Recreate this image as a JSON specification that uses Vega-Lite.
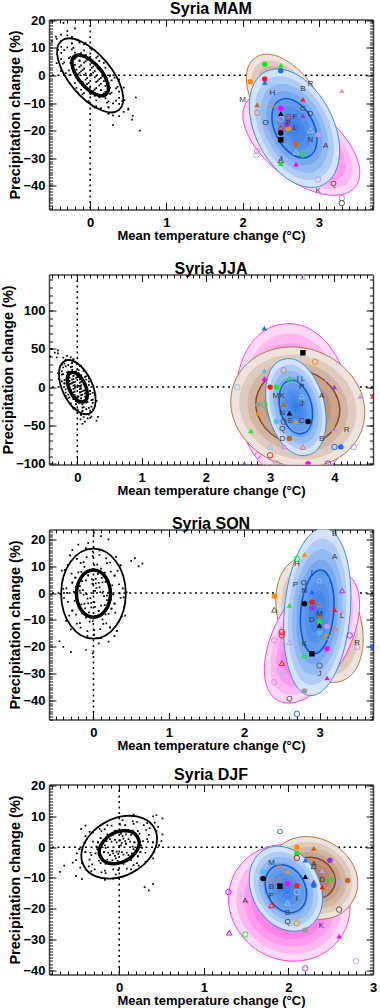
{
"$schema": "https://vega.github.io/schema/vega-lite/v6.json",
"padding": {"left": 0, "top": 0.5, "right": 0, "bottom": 0},
"spacing": 65,
"bounds": "flush",
"config": {
 "font": "Liberation Sans",
 "view": {"stroke": null},
 "title": {"fontSize": 16, "fontWeight": "bold", "color": "black", "offset": -3, "anchor": "middle", "font": "Liberation Sans"},
 "axis": {"grid": false, "labelFont": "Liberation Sans", "labelFontSize": 13, "labelFontWeight": "bold", "labelColor": "black", "titleFont": "Liberation Sans", "titleFontWeight": "bold", "titleColor": "black", "tickColor": "#111", "tickWidth": 1, "tickSize": -7, "domainColor": "#444", "domainWidth": 1.5, "labelFlush": false, "labelOverlap": false, "zindex": 1},
 "axisX": {"titleFontSize": 13, "titlePadding": 0, "labelPadding": 14},
 "axisY": {"titleFontSize": 14.5, "titlePadding": 0, "labelPadding": 11},
 "point": {"opacity": 1},
 "square": {"opacity": 1}
},
"datasets": {
 "cMAM": [{"x":-0.02,"y":-2.7},{"x":-0.2,"y":3.8},{"x":0.26,"y":-6.7},{"x":0.02,"y":4.9},{"x":0,"y":-6.6},{"x":-0.24,"y":9.4},{"x":0,"y":0},{"x":0.12,"y":-8},{"x":-0.26,"y":0.1},{"x":0.3,"y":-10.1},{"x":0.12,"y":5.2},{"x":0.14,"y":-0.9},{"x":-0.08,"y":9},{"x":-0.02,"y":-9.3},{"x":-0.42,"y":9.3},{"x":0.38,"y":-5.9},{"x":-0.34,"y":4.7},{"x":0.08,"y":-0.2},{"x":0.26,"y":-0.1},{"x":-0.16,"y":0.4},{"x":0.24,"y":-13.8},{"x":-0.24,"y":11.6},{"x":-0.1,"y":-2.5},{"x":0.2,"y":-8.2},{"x":-0.14,"y":5.3},{"x":-0.08,"y":-6.4},{"x":-0.06,"y":0.7},{"x":0.38,"y":-1.5},{"x":-0.44,"y":4.4},{"x":0.24,"y":-2.8},{"x":-0.06,"y":5.1},{"x":0.44,"y":-13.2},{"x":-0.38,"y":12.5},{"x":0.1,"y":2.5},{"x":0.08,"y":-4.6},{"x":-0.2,"y":6},{"x":0.14,"y":-11.9},{"x":0.1,"y":6.9},{"x":-0.08,"y":-4.2},{"x":-0.08,"y":11.2},{"x":0.38,"y":-8.1},{"x":-0.28,"y":1.8},{"x":0.08,"y":-2.4},{"x":0.04,"y":3.2},{"x":0.18,"y":-6.5},{"x":-0.18,"y":2.1},{"x":0.36,"y":-4.2},{"x":-0.34,"y":9.1},{"x":-0.18,"y":-4.5},{"x":0.06,"y":-7.3},{"x":-0.5,"y":12.4},{"x":0.56,"y":-14.6},{"x":-0.08,"y":2.4},{"x":0.16,"y":1.8},{"x":0.14,"y":-3.1},{"x":-0.14,"y":7.5},{"x":0.38,"y":-10.3},{"x":-0.14,"y":11.9},{"x":0,"y":-4.4},{"x":-0.2,"y":-2.8},{"x":0.06,"y":-11.7},{"x":-0.24,"y":13.8},{"x":0.04,"y":1},{"x":0.32,"y":-0.8},{"x":0,"y":6.6},{"x":0.22,"y":-9.9},{"x":-0.28,"y":6.2},{"x":-0.16,"y":-6.2},{"x":-0.06,"y":7.3},{"x":0.04,"y":-5.6},{"x":0.3,"y":-14.5},{"x":-0.38,"y":14.7},{"x":0.26,"y":-4.5},{"x":-0.12,"y":1.4},{"x":-0.06,"y":-1.5},{"x":0.1,"y":-1.9},{"x":-0.12,"y":3.6},{"x":0.24,"y":-11.6},{"x":-0.38,"y":1.5},{"x":0.14,"y":-5.3},{"x":-0.35,"y":19},{"x":-0.2,"y":17},{"x":0.5,"y":-12},{"x":0.6,"y":-8},{"x":0.55,"y":-16},{"x":0.65,"y":-20},{"x":-0.45,"y":14},{"x":0.3,"y":-18},{"x":-0.3,"y":16},{"x":0.45,"y":-9},
  {"x":0.02,"y":2.7},{"x":0.2,"y":-3.8},{"x":-0.26,"y":6.7},{"x":-0.02,"y":-4.9},{"x":0,"y":6.6},{"x":0.24,"y":-9.4},{"x":0.01,"y":0.5},{"x":-0.12,"y":8},{"x":0.26,"y":-0.1},{"x":-0.3,"y":10.1},{"x":-0.12,"y":-5.2},{"x":-0.14,"y":0.9},{"x":0.08,"y":-9},{"x":0.02,"y":9.3},{"x":0.42,"y":-9.3},{"x":-0.38,"y":5.9},{"x":0.34,"y":-4.7},{"x":-0.08,"y":0.2},{"x":-0.26,"y":0.1},{"x":0.16,"y":-0.4},{"x":-0.24,"y":13.8},{"x":0.24,"y":-11.6},{"x":0.1,"y":2.5},{"x":-0.2,"y":8.2},{"x":0.14,"y":-5.3},{"x":0.08,"y":6.4},{"x":0.06,"y":-0.7},{"x":-0.38,"y":1.5},{"x":0.44,"y":-4.4},{"x":-0.24,"y":2.8},{"x":0.06,"y":-5.1},{"x":-0.44,"y":13.2},{"x":0.38,"y":-12.5},{"x":-0.1,"y":-2.5},{"x":-0.08,"y":4.6},{"x":0.2,"y":-6},{"x":-0.14,"y":11.9},{"x":-0.1,"y":-6.9},{"x":0.08,"y":4.2},{"x":0.08,"y":-11.2},{"x":-0.38,"y":8.1},{"x":0.28,"y":-1.8},{"x":-0.08,"y":2.4},{"x":-0.04,"y":-3.2},{"x":-0.18,"y":6.5},{"x":0.18,"y":-2.1},{"x":-0.36,"y":4.2},{"x":0.34,"y":-9.1},{"x":0.18,"y":4.5},{"x":-0.06,"y":7.3},{"x":0.5,"y":-12.4},{"x":-0.56,"y":14.6},{"x":0.08,"y":-2.4},{"x":-0.16,"y":-1.8},{"x":-0.14,"y":3.1},{"x":0.14,"y":-7.5},{"x":-0.38,"y":10.3},{"x":0.14,"y":-11.9},{"x":0.02,"y":4.4},{"x":0.2,"y":2.8},{"x":-0.06,"y":11.7},{"x":0.24,"y":-13.8},{"x":-0.04,"y":-1},{"x":-0.32,"y":0.8},{"x":0.01,"y":-6.6},{"x":-0.22,"y":9.9},{"x":0.28,"y":-6.2},{"x":0.16,"y":6.2},{"x":0.06,"y":-7.3},{"x":-0.04,"y":5.6},{"x":-0.3,"y":14.5},{"x":0.38,"y":-14.7},{"x":-0.26,"y":4.5},{"x":0.12,"y":-1.4},{"x":0.06,"y":1.5},{"x":-0.1,"y":1.9},{"x":0.12,"y":-3.6},{"x":-0.24,"y":11.6},{"x":0.38,"y":-1.5},{"x":-0.14,"y":5.3}],
 "eMAM": [
  {"g":"k","p":"line","k":8,"x":0,"y":0},{"g":"k","p":"line","k":4.4,"x":0,"y":0},
  {"g":"pink","p":"base","k":8,"x":2.77,"y":-24.8},{"g":"pink","p":"band","k":8,"x":2.77,"y":-24.8},{"g":"pink","p":"band","k":7,"x":2.77,"y":-24.8},{"g":"pink","p":"band","k":6,"x":2.77,"y":-24.8},{"g":"pink","p":"band","k":5,"x":2.77,"y":-24.8},{"g":"pink","p":"band","k":4,"x":2.77,"y":-24.8},{"g":"pink","p":"band","k":3,"x":2.77,"y":-24.8},{"g":"pink","p":"band","k":2,"x":2.77,"y":-24.8},{"g":"pink","p":"band","k":1,"x":2.77,"y":-24.8},{"g":"pink","p":"line","k":8,"x":2.77,"y":-24.8},
  {"g":"brown","p":"base","k":8,"x":2.58,"y":-9.9},{"g":"brown","p":"band","k":8,"x":2.58,"y":-9.9},{"g":"brown","p":"band","k":7,"x":2.58,"y":-9.9},{"g":"brown","p":"band","k":6,"x":2.58,"y":-9.9},{"g":"brown","p":"band","k":5,"x":2.58,"y":-9.9},{"g":"brown","p":"band","k":4,"x":2.58,"y":-9.9},{"g":"brown","p":"band","k":3,"x":2.58,"y":-9.9},{"g":"brown","p":"band","k":2,"x":2.58,"y":-9.9},{"g":"brown","p":"band","k":1,"x":2.58,"y":-9.9},{"g":"brown","p":"line","k":8,"x":2.58,"y":-9.9},
  {"g":"blue","p":"base","k":8,"x":2.68,"y":-19.1},{"g":"blue","p":"band","k":8,"x":2.68,"y":-19.1},{"g":"blue","p":"band","k":7,"x":2.68,"y":-19.1},{"g":"blue","p":"band","k":6,"x":2.68,"y":-19.1},{"g":"blue","p":"band","k":5,"x":2.68,"y":-19.1},{"g":"blue","p":"band","k":4,"x":2.68,"y":-19.1},{"g":"blue","p":"band","k":3,"x":2.68,"y":-19.1},{"g":"blue","p":"band","k":2,"x":2.68,"y":-19.1},{"g":"blue","p":"band","k":1,"x":2.68,"y":-19.1},{"g":"blue","p":"line","k":8,"x":2.68,"y":-19.1},{"g":"blue","p":"line","k":4,"x":2.68,"y":-19.1}
 ],
 "mMAM": [{"x":2.29,"y":4,"c":"g","s":"c","f":1},{"x":2.5,"y":3.6,"c":"g","s":"t","f":1},{"x":2.5,"y":1.7,"c":"b","s":"c","f":1},{"x":2.1,"y":-2.3,"c":"o","s":"c","f":1},{"x":2.29,"y":-1.3,"c":"r","s":"c","f":1},{"x":2.29,"y":-2.5,"c":"b","s":"t","f":1},{"x":2.19,"y":-10.7,"c":"n","s":"t","f":1},{"x":2.19,"y":-13.5,"c":"sa","s":"c","f":0},{"x":2.39,"y":-10.7,"c":"sa","s":"t","f":0},{"x":2.5,"y":-11.9,"c":"m","s":"c","f":1},{"x":2.5,"y":-13.8,"c":"k","s":"t","f":1},{"x":2.6,"y":-15.2,"c":"r","s":"c","f":0},{"x":2.5,"y":-15.8,"c":"l","s":"c","f":0},{"x":2.79,"y":-14.6,"c":"p","s":"t","f":1},{"x":2.79,"y":-8.7,"c":"r","s":"t","f":1},{"x":3.3,"y":-5.5,"c":"l","s":"t","f":1},{"x":2.3,"y":-18.8,"c":"l","s":"t","f":0},{"x":2.6,"y":-19.2,"c":"o","s":"c","f":1},{"x":2.58,"y":-17.8,"c":"p","s":"c","f":1},{"x":2.5,"y":-19,"c":"r","s":"t","f":0},{"x":2.5,"y":-20.8,"c":"k","s":"c","f":1},{"x":2.5,"y":-23.3,"c":"k","s":"q","f":1},{"x":2.7,"y":-24.8,"c":"n","s":"c","f":1},{"x":2.89,"y":-19.8,"c":"lb","s":"t","f":0},{"x":2.99,"y":-21.5,"c":"l","s":"c","f":1},{"x":2.7,"y":-27.7,"c":"lb","s":"t","f":0},{"x":2.79,"y":-28.6,"c":"g","s":"c","f":0},{"x":2.19,"y":-27.4,"c":"pk","s":"c","f":0},{"x":2.18,"y":-28.9,"c":"lb","s":"c","f":0},{"x":2.5,"y":-30.7,"c":"dg","s":"t","f":0},{"x":2.5,"y":-31.9,"c":"g","s":"t","f":1},{"x":2.7,"y":-32.1,"c":"m","s":"t","f":1},{"x":2.99,"y":-37.6,"c":"l","s":"c","f":0},{"x":3.3,"y":-44.4,"c":"y","s":"c","f":0},{"x":3.3,"y":-46.2,"c":"dg","s":"c","f":0},{"x":3.7,"y":-31.3,"c":"l","s":"c","f":0}],
 "lMAM": [{"t":"A","x":3.09,"y":-25.7},{"t":"B","x":2.79,"y":-5.1},{"t":"C","x":2.79,"y":-12.3},{"t":"D","x":2.89,"y":-14},{"t":"F","x":2.69,"y":-15.2},{"t":"H","x":2.39,"y":-6.3},{"t":"J","x":2.5,"y":-30.2},{"t":"K","x":2.99,"y":-41.8},{"t":"L","x":2.69,"y":-19.2},{"t":"M","x":2.0,"y":-9},{"t":"N","x":2.89,"y":-23.3},{"t":"O","x":2.3,"y":-17.3},{"t":"P","x":2.6,"y":-17.3},{"t":"Q","x":3.19,"y":-39.3},{"t":"R","x":2.89,"y":-3.3}],
 "cJJA": [{"x":-0.04,"y":-5.9},{"x":-0.12,"y":12.4},{"x":0.14,"y":-20.2},{"x":0.06,"y":11},{"x":-0.06,"y":-15.3},{"x":-0.1,"y":26.1},{"x":0,"y":0},{"x":0.02,"y":-20.7},{"x":-0.2,"y":4.9},{"x":0.14,"y":-28.8},{"x":0.14,"y":9.9},{"x":0.1,"y":-4.6},{"x":0.02,"y":22.3},{"x":-0.1,"y":-21.2},{"x":-0.24,"y":29.1},{"x":0.24,"y":-20.5},{"x":-0.22,"y":17},{"x":0.06,"y":-1.9},{"x":0.2,"y":-4.9},{"x":-0.12,"y":3.8},{"x":0.06,"y":-36.3},{"x":-0.08,"y":31.2},{"x":-0.1,"y":-4},{"x":0.08,"y":-22.6},{"x":-0.06,"y":14.8},{"x":-0.12,"y":-13.4},{"x":-0.04,"y":2.7},{"x":0.28,"y":-10.3},{"x":-0.3,"y":18.1},{"x":0.16,"y":-10.8},{"x":0,"y":12.9},{"x":0.22,"y":-38.5},{"x":-0.18,"y":35.8},{"x":0.1,"y":4},{"x":0.02,"y":-12.1},{"x":-0.1,"y":17.5},{"x":0,"y":-30.1},{"x":0.14,"y":14.2},{"x":-0.1,"y":-8.3},{"x":0.04,"y":27.4},{"x":0.22,"y":-25.6},{"x":-0.2,"y":9.2},{"x":0.04,"y":-7},{"x":0.06,"y":6.7},{"x":0.08,"y":-18.3},{"x":-0.12,"y":8.1},{"x":0.24,"y":-16.2},{"x":-0.18,"y":27.2},{"x":-0.18,"y":-7.2},{"x":-0.02,"y":-18},{"x":-0.32,"y":38.8},{"x":0.3,"y":-43.9},{"x":-0.04,"y":7},{"x":0.14,"y":1.3},{"x":0.08,"y":-9.7},{"x":-0.04,"y":19.9},{"x":0.2,"y":-30.7},{"x":0,"y":30.1},{"x":-0.04,"y":-10.2},{"x":-0.18,"y":-2.9},{"x":-0.06,"y":-28.2},{"x":-0.06,"y":36.3},{"x":0.04,"y":1.6},{"x":0.24,"y":-7.6},{"x":0.06,"y":15.3},{"x":0.08,"y":-26.9},{"x":-0.16,"y":19.4},{"x":-0.18,"y":-11.5},{"x":0.02,"y":18},{"x":-0.02,"y":-13.7},{"x":0.1,"y":-39},{"x":-0.16,"y":40.9},{"x":0.16,"y":-15.1},{"x":-0.08,"y":5.4},{"x":-0.06,"y":-2.4},{"x":0.06,"y":-6.2},{"x":-0.06,"y":10.5},{"x":0.08,"y":-31.2},{"x":-0.28,"y":10.3},{"x":0.06,"y":-14.8},{"x":-0.4,"y":50},{"x":-0.35,"y":45},{"x":-0.3,"y":48},{"x":-0.42,"y":40},{"x":0.05,"y":-42},{"x":0.12,"y":-45},{"x":0.2,"y":-40},{"x":0.08,"y":-48},
  {"x":0.04,"y":5.9},{"x":0.12,"y":-12.4},{"x":-0.14,"y":20.2},{"x":-0.06,"y":-11},{"x":0.06,"y":15.3},{"x":0.1,"y":-26.1},{"x":0.02,"y":1.5},{"x":-0.02,"y":20.7},{"x":0.2,"y":-4.9},{"x":-0.14,"y":28.8},{"x":-0.14,"y":-9.9},{"x":-0.1,"y":4.6},{"x":-0.02,"y":-22.3},{"x":0.1,"y":21.2},{"x":0.24,"y":-29.1},{"x":-0.24,"y":20.5},{"x":0.22,"y":-17},{"x":-0.06,"y":1.9},{"x":-0.2,"y":4.9},{"x":0.12,"y":-3.8},{"x":-0.06,"y":36.3},{"x":0.08,"y":-31.2},{"x":0.1,"y":4},{"x":-0.08,"y":22.6},{"x":0.06,"y":-14.8},{"x":0.12,"y":13.4},{"x":0.04,"y":-2.7},{"x":-0.28,"y":10.3},{"x":0.3,"y":-18.1},{"x":-0.16,"y":10.8},{"x":0.01,"y":-12.9},{"x":-0.22,"y":38.5},{"x":0.18,"y":-35.8},{"x":-0.1,"y":-4},{"x":-0.02,"y":12.1},{"x":0.1,"y":-17.5},{"x":0.01,"y":30.1},{"x":-0.14,"y":-14.2},{"x":0.1,"y":8.3},{"x":-0.04,"y":-27.4},{"x":-0.22,"y":25.6},{"x":0.2,"y":-9.2},{"x":-0.04,"y":7},{"x":-0.06,"y":-6.7},{"x":-0.08,"y":18.3},{"x":0.12,"y":-8.1},{"x":-0.24,"y":16.2},{"x":0.18,"y":-27.2},{"x":0.18,"y":7.2},{"x":0.02,"y":18},{"x":0.32,"y":-38.8},{"x":-0.3,"y":43.9},{"x":0.04,"y":-7},{"x":-0.14,"y":-1.3},{"x":-0.08,"y":9.7},{"x":0.04,"y":-19.9},{"x":-0.2,"y":30.7},{"x":0.01,"y":-30.1},{"x":0.04,"y":10.2},{"x":0.18,"y":2.9},{"x":0.06,"y":28.2},{"x":0.06,"y":-36.3},{"x":-0.04,"y":-1.6},{"x":-0.24,"y":7.6},{"x":-0.06,"y":-15.3},{"x":-0.08,"y":26.9},{"x":0.16,"y":-19.4},{"x":0.18,"y":11.5},{"x":-0.02,"y":-18},{"x":0.02,"y":13.7},{"x":-0.1,"y":39},{"x":0.16,"y":-40.9},{"x":-0.16,"y":15.1},{"x":0.08,"y":-5.4},{"x":0.06,"y":2.4},{"x":-0.06,"y":6.2},{"x":0.06,"y":-10.5},{"x":-0.08,"y":31.2},{"x":0.28,"y":-10.3},{"x":-0.06,"y":14.8}],
 "eJJA": [
  {"g":"k","p":"line","k":8,"x":0,"y":0},{"g":"k","p":"line","k":4.4,"x":0,"y":0},
  {"g":"pink","p":"base","k":8,"x":3.36,"y":-20},{"g":"pink","p":"band","k":8,"x":3.36,"y":-20},{"g":"pink","p":"band","k":7,"x":3.36,"y":-20},{"g":"pink","p":"band","k":6,"x":3.36,"y":-20},{"g":"pink","p":"band","k":5,"x":3.36,"y":-20},{"g":"pink","p":"band","k":4,"x":3.36,"y":-20},{"g":"pink","p":"band","k":3,"x":3.36,"y":-20},{"g":"pink","p":"band","k":2,"x":3.36,"y":-20},{"g":"pink","p":"band","k":1,"x":3.36,"y":-20},{"g":"pink","p":"line","k":8,"x":3.36,"y":-20},
  {"g":"brown","p":"base","k":8,"x":3.43,"y":-26},{"g":"brown","p":"band","k":8,"x":3.43,"y":-26},{"g":"brown","p":"band","k":7,"x":3.43,"y":-26},{"g":"brown","p":"band","k":6,"x":3.43,"y":-26},{"g":"brown","p":"band","k":5,"x":3.43,"y":-26},{"g":"brown","p":"band","k":4,"x":3.43,"y":-26},{"g":"brown","p":"band","k":3,"x":3.43,"y":-26},{"g":"brown","p":"band","k":2,"x":3.43,"y":-26},{"g":"brown","p":"band","k":1,"x":3.43,"y":-26},{"g":"brown","p":"line","k":8,"x":3.43,"y":-26},{"g":"brown","p":"line","k":5,"x":3.43,"y":-26},
  {"g":"blue","p":"base","k":8,"x":3.4,"y":-26.1},{"g":"blue","p":"band","k":8,"x":3.4,"y":-26.1},{"g":"blue","p":"band","k":7,"x":3.4,"y":-26.1},{"g":"blue","p":"band","k":6,"x":3.4,"y":-26.1},{"g":"blue","p":"band","k":5,"x":3.4,"y":-26.1},{"g":"blue","p":"band","k":4,"x":3.4,"y":-26.1},{"g":"blue","p":"band","k":3,"x":3.4,"y":-26.1},{"g":"blue","p":"band","k":2,"x":3.4,"y":-26.1},{"g":"blue","p":"band","k":1,"x":3.4,"y":-26.1},{"g":"blue","p":"line","k":8,"x":3.4,"y":-26.1},{"g":"blue","p":"line","k":4.4,"x":3.4,"y":-26.1}
 ],
 "mJJA": [{"x":3.51,"y":144,"c":"l","s":"t","f":0},{"x":2.91,"y":77,"c":"b","s":"t","f":1},{"x":3.51,"y":45,"c":"k","s":"q","f":1},{"x":3.7,"y":33,"c":"o","s":"c","f":0},{"x":3.21,"y":22,"c":"sa","s":"c","f":0},{"x":2.91,"y":22,"c":"c","s":"t","f":1},{"x":2.91,"y":11,"c":"m","s":"t","f":1},{"x":3.3,"y":11,"c":"g","s":"t","f":0},{"x":3.9,"y":11,"c":"l","s":"t","f":0},{"x":2.49,"y":0,"c":"lb","s":"c","f":0},{"x":3.0,"y":0,"c":"r","s":"c","f":1},{"x":3.1,"y":0,"c":"g","s":"c","f":1},{"x":4.0,"y":0,"c":"p","s":"t","f":1},{"x":4.4,"y":-12,"c":"l","s":"t","f":1},{"x":4.6,"y":-12,"c":"r","s":"t","f":1},{"x":3.49,"y":-12,"c":"lb","s":"t","f":0},{"x":2.81,"y":-23,"c":"y","s":"c","f":1},{"x":2.91,"y":-23,"c":"g","s":"c","f":0},{"x":3.21,"y":-23,"c":"n","s":"t","f":1},{"x":2.81,"y":-34,"c":"o","s":"t","f":1},{"x":3.3,"y":-34,"c":"k","s":"t","f":1},{"x":3.1,"y":-45,"c":"c","s":"c","f":1},{"x":3.21,"y":-45,"c":"dg","s":"c","f":0},{"x":3.4,"y":-45,"c":"o","s":"t","f":1},{"x":3.59,"y":-45,"c":"k","s":"c","f":1},{"x":2.7,"y":-57,"c":"g","s":"t","f":1},{"x":4.0,"y":-55,"c":"l","s":"t","f":0},{"x":3.3,"y":-67,"c":"n","s":"c","f":1},{"x":3.0,"y":-78,"c":"lb","s":"t","f":0},{"x":3.21,"y":-78,"c":"l","s":"c","f":1},{"x":3.51,"y":-78,"c":"sa","s":"t","f":0},{"x":4.0,"y":-78,"c":"b","s":"c","f":0},{"x":4.1,"y":-78,"c":"b","s":"c","f":1},{"x":4.3,"y":-78,"c":"l","s":"c","f":0},{"x":2.81,"y":-89,"c":"pk","s":"c","f":0},{"x":3.0,"y":-89,"c":"r","s":"c","f":0},{"x":2.6,"y":-100,"c":"p","s":"t","f":1},{"x":3.1,"y":-100,"c":"y","s":"c","f":0},{"x":3.59,"y":-100,"c":"m","s":"c","f":1},{"x":3.9,"y":-100,"c":"p","s":"c","f":0}],
 "lJJA": [{"t":"I","x":3.43,"y":11},{"t":"L","x":3.51,"y":11},{"t":"P","x":3.49,"y":0},{"t":"M","x":3.09,"y":-11.7},{"t":"K","x":3.19,"y":-11.7},{"t":"A","x":3.8,"y":-11.7},{"t":"J","x":3.49,"y":-21.7},{"t":"N","x":3.19,"y":-33.9},{"t":"E","x":3.32,"y":-44.8},{"t":"C","x":3.49,"y":-44.8},{"t":"Q","x":3.19,"y":-55.2},{"t":"R","x":4.19,"y":-56.5},{"t":"D","x":3.19,"y":-67.4},{"t":"B","x":3.8,"y":-67.4}],
 "cSON": [{"x":0.14,"y":-1.1},{"x":0.06,"y":7.2},{"x":-0.01,"y":-10.4},{"x":-0.23,"y":2.4},{"x":0.28,"y":-3.9},{"x":-0.13,"y":11.5},{"x":0,"y":0},{"x":0.2,"y":-7.7},{"x":0.28,"y":6.5},{"x":0.09,"y":-13.4},{"x":-0.35,"y":0.1},{"x":-0.12,"y":-4},{"x":-0.29,"y":7.3},{"x":0.41,"y":-5},{"x":0.08,"y":15.9},{"x":-0.17,"y":-12.9},{"x":0.18,"y":11.2},{"x":-0.08,"y":-2.1},{"x":-0.28,"y":-6.5},{"x":0.16,"y":4.2},{"x":0.31,"y":-14.1},{"x":-0.22,"y":12.8},{"x":0.22,"y":1},{"x":0.12,"y":-9.8},{"x":-0.07,"y":6.6},{"x":0.36,"y":-1.8},{"x":0.04,"y":1.9},{"x":-0.36,"y":-10.3},{"x":0.3,"y":13.5},{"x":-0.15,"y":-7.6},{"x":-0.15,"y":4.5},{"x":0.07,"y":-18.7},{"x":-0.1,"y":16.8},{"x":-0.22,"y":-1},{"x":0.1,"y":-4.7},{"x":-0.03,"y":8.5},{"x":0.34,"y":-10.5},{"x":-0.4,"y":1.6},{"x":0.26,"y":-0.5},{"x":-0.38,"y":8.6},{"x":-0.08,"y":-14.2},{"x":0.23,"y":8},{"x":0.01,"y":-3.4},{"x":-0.18,"y":0.9},{"x":0.07,"y":-8.3},{"x":0.11,"y":5.7},{"x":-0.22,"y":-11.4},{"x":-0.01,"y":13.8},{"x":0.39,"y":1.8},{"x":0.24,"y":-5.8},{"x":0.1,"y":21.2},{"x":-0.01,"y":-22.5},{"x":-0.01,"y":3.4},{"x":-0.25,"y":-2.9},{"x":-0.03,"y":-5.3},{"x":-0.16,"y":7.9},{"x":0.01,"y":-15.5},{"x":-0.34,"y":10.5},{"x":0.18,"y":-2.6},{"x":0.34,"y":3.3},{"x":0.42,"y":-8.4},{"x":-0.31,"y":14.1},{"x":-0.09,"y":-0.4},{"x":-0.32,"y":-8.4},{"x":-0.28,"y":3.9},{"x":0.17,"y":-11.3},{"x":0.05,"y":10.6},{"x":0.44,"y":0.3},{"x":-0.24,"y":5.8},{"x":0.19,"y":-4.3},{"x":0.28,"y":-16},{"x":-0.2,"y":18.1},{"x":-0.1,"y":-9.1},{"x":0.07,"y":3.8},{"x":0.13,"y":0.6},{"x":-0.03,"y":-3.6},{"x":-0.02,"y":5.1},{"x":0.22,"y":-12.8},{"x":0.36,"y":10.3},{"x":0.07,"y":-6.6},{"x":0.5,"y":12},{"x":0.6,"y":10},{"x":0.65,"y":11},{"x":-0.45,"y":-18},{"x":-0.4,"y":-20},{"x":0.2,"y":20},{"x":-0.3,"y":-22},{"x":0.55,"y":13},
  {"x":-0.14,"y":1.1},{"x":-0.06,"y":-7.2},{"x":0.01,"y":10.4},{"x":0.23,"y":-2.4},{"x":-0.28,"y":3.9},{"x":0.13,"y":-11.5},{"x":0.02,"y":0.8},{"x":-0.2,"y":7.7},{"x":-0.28,"y":-6.5},{"x":-0.09,"y":13.4},{"x":0.35,"y":-0.1},{"x":0.12,"y":4},{"x":0.29,"y":-7.3},{"x":-0.41,"y":5},{"x":-0.08,"y":-15.9},{"x":0.17,"y":12.9},{"x":-0.18,"y":-11.2},{"x":0.08,"y":2.1},{"x":0.28,"y":6.5},{"x":-0.16,"y":-4.2},{"x":-0.31,"y":14.1},{"x":0.22,"y":-12.8},{"x":-0.22,"y":-1},{"x":-0.12,"y":9.8},{"x":0.07,"y":-6.6},{"x":-0.36,"y":1.8},{"x":-0.04,"y":-1.9},{"x":0.36,"y":10.3},{"x":-0.3,"y":-13.5},{"x":0.15,"y":7.6},{"x":0.15,"y":-4.5},{"x":-0.07,"y":18.7},{"x":0.1,"y":-16.8},{"x":0.22,"y":1},{"x":-0.1,"y":4.7},{"x":0.03,"y":-8.5},{"x":-0.34,"y":10.5},{"x":0.4,"y":-1.6},{"x":-0.26,"y":0.5},{"x":0.38,"y":-8.6},{"x":0.08,"y":14.2},{"x":-0.23,"y":-8},{"x":-0.01,"y":3.4},{"x":0.18,"y":-0.9},{"x":-0.07,"y":8.3},{"x":-0.11,"y":-5.7},{"x":0.22,"y":11.4},{"x":0.01,"y":-13.8},{"x":-0.39,"y":-1.8},{"x":-0.24,"y":5.8},{"x":-0.1,"y":-21.2},{"x":0.01,"y":22.5},{"x":0.01,"y":-3.4},{"x":0.25,"y":2.9},{"x":0.03,"y":5.3},{"x":0.16,"y":-7.9},{"x":-0.01,"y":15.5},{"x":0.34,"y":-10.5},{"x":-0.18,"y":2.6},{"x":-0.34,"y":-3.3},{"x":-0.42,"y":8.4},{"x":0.31,"y":-14.1},{"x":0.09,"y":0.4},{"x":0.32,"y":8.4},{"x":0.28,"y":-3.9},{"x":-0.17,"y":11.3},{"x":-0.05,"y":-10.6},{"x":-0.44,"y":-0.3},{"x":0.24,"y":-5.8},{"x":-0.19,"y":4.3},{"x":-0.28,"y":16},{"x":0.2,"y":-18.1},{"x":0.1,"y":9.1},{"x":-0.07,"y":-3.8},{"x":-0.13,"y":-0.6},{"x":0.03,"y":3.6},{"x":0.02,"y":-5.1},{"x":-0.22,"y":12.8},{"x":-0.36,"y":-10.3},{"x":-0.07,"y":6.6}],
 "eSON": [
  {"g":"k","p":"line","k":8,"x":0,"y":-0.2},{"g":"k","p":"line","k":4.2,"x":0,"y":-0.2},
  {"g":"brown","p":"base","k":8,"x":3.0,"y":-10},{"g":"brown","p":"band","k":8,"x":3.0,"y":-10},{"g":"brown","p":"band","k":7,"x":3.0,"y":-10},{"g":"brown","p":"band","k":6,"x":3.0,"y":-10},{"g":"brown","p":"band","k":5,"x":3.0,"y":-10},{"g":"brown","p":"band","k":4,"x":3.0,"y":-10},{"g":"brown","p":"band","k":3,"x":3.0,"y":-10},{"g":"brown","p":"band","k":2,"x":3.0,"y":-10},{"g":"brown","p":"band","k":1,"x":3.0,"y":-10},{"g":"brown","p":"line","k":8,"x":3.0,"y":-10},
  {"g":"pink","p":"base","k":8,"x":2.9,"y":-16.4},{"g":"pink","p":"band","k":8,"x":2.9,"y":-16.4},{"g":"pink","p":"band","k":7,"x":2.9,"y":-16.4},{"g":"pink","p":"band","k":6,"x":2.9,"y":-16.4},{"g":"pink","p":"band","k":5,"x":2.9,"y":-16.4},{"g":"pink","p":"band","k":4,"x":2.9,"y":-16.4},{"g":"pink","p":"band","k":3,"x":2.9,"y":-16.4},{"g":"pink","p":"band","k":2,"x":2.9,"y":-16.4},{"g":"pink","p":"band","k":1,"x":2.9,"y":-16.4},{"g":"pink","p":"line","k":8,"x":2.9,"y":-16.4},
  {"g":"blue","p":"base","k":8,"x":2.97,"y":-7},{"g":"blue","p":"band","k":8,"x":2.97,"y":-7},{"g":"blue","p":"band","k":7,"x":2.97,"y":-7},{"g":"blue","p":"band","k":6,"x":2.97,"y":-7},{"g":"blue","p":"band","k":5,"x":2.97,"y":-7},{"g":"blue","p":"band","k":4,"x":2.97,"y":-7},{"g":"blue","p":"band","k":3,"x":2.97,"y":-7},{"g":"blue","p":"band","k":2,"x":2.97,"y":-7},{"g":"blue","p":"band","k":1,"x":2.97,"y":-7},{"g":"blue","p":"line","k":8,"x":2.97,"y":-7},{"g":"blue","p":"line","k":4,"x":2.97,"y":-7}
 ],
 "mSON": [{"x":2.8,"y":14.4,"c":"o","s":"t","f":1},{"x":2.7,"y":12.8,"c":"g","s":"c","f":0},{"x":3.0,"y":4.7,"c":"lb","s":"t","f":0},{"x":3.3,"y":1,"c":"p","s":"t","f":0},{"x":2.4,"y":-1.2,"c":"o","s":"c","f":1},{"x":2.9,"y":0.4,"c":"b","s":"t","f":1},{"x":2.6,"y":-4.6,"c":"g","s":"t","f":1},{"x":2.8,"y":-4,"c":"k","s":"c","f":1},{"x":2.9,"y":-3.4,"c":"r","s":"c","f":1},{"x":2.9,"y":-5.6,"c":"p","s":"c","f":1},{"x":3.0,"y":-4.2,"c":"sa","s":"t","f":0},{"x":2.4,"y":-6.2,"c":"dg","s":"t","f":0},{"x":3.2,"y":-6.2,"c":"r","s":"t","f":1},{"x":3.3,"y":-6.8,"c":"l","s":"t","f":1},{"x":3.0,"y":-8.3,"c":"n","s":"t","f":1},{"x":3.0,"y":-10.6,"c":"g","s":"c","f":1},{"x":3.0,"y":-12,"c":"k","s":"t","f":1},{"x":3.2,"y":-13,"c":"sa","s":"t","f":0},{"x":3.1,"y":-12.4,"c":"l","s":"c","f":1},{"x":3.0,"y":-14.8,"c":"c","s":"c","f":1},{"x":3.1,"y":-16.4,"c":"o","s":"c","f":0},{"x":2.5,"y":-14.5,"c":"r","s":"c","f":0},{"x":2.5,"y":-15.8,"c":"r","s":"c","f":0},{"x":2.4,"y":-17.6,"c":"pk","s":"c","f":0},{"x":2.6,"y":-18.3,"c":"l","s":"t","f":0},{"x":3.4,"y":-15.8,"c":"p","s":"c","f":0},{"x":3.5,"y":-20.1,"c":"l","s":"c","f":0},{"x":3.71,"y":-20.1,"c":"b","s":"c","f":1},{"x":2.9,"y":-22.6,"c":"k","s":"q","f":1},{"x":2.8,"y":-23.2,"c":"g","s":"t","f":0},{"x":3.1,"y":-20.7,"c":"m","s":"c","f":1},{"x":2.5,"y":-26.1,"c":"r","s":"t","f":0},{"x":3.0,"y":-27,"c":"dg","s":"c","f":0},{"x":2.5,"y":-29.8,"c":"lb","s":"t","f":0},{"x":3.1,"y":-31.6,"c":"m","s":"t","f":1},{"x":2.4,"y":-33.2,"c":"pk","s":"c","f":0},{"x":2.8,"y":-36.5,"c":"y","s":"c","f":1},{"x":2.7,"y":-45,"c":"b","s":"c","f":0}],
 "lSON": [{"t":"B","x":3.2,"y":21.9},{"t":"A","x":3.2,"y":13.4},{"t":"H","x":2.7,"y":10.9},{"t":"I","x":2.9,"y":7.6},{"t":"P","x":2.68,"y":3.2},{"t":"O","x":2.79,"y":3.6},{"t":"N","x":2.8,"y":0.6},{"t":"L","x":3.3,"y":-8.7},{"t":"D","x":2.9,"y":-10.2},{"t":"M","x":3.0,"y":-7.7},{"t":"R","x":3.5,"y":-18.6},{"t":"K","x":2.8,"y":-18.9},{"t":"J","x":3.0,"y":-30.1},{"t":"Q","x":2.6,"y":-39.4}],
 "cDJF": [{"x":0.09,"y":-1.8},{"x":-0.14,"y":-4},{"x":0.24,"y":4.4},{"x":-0.16,"y":2.8},{"x":0.22,"y":-3},{"x":-0.33,"y":-2.6},{"x":0,"y":0},{"x":0.27,"y":-0.2},{"x":-0.01,"y":-7.4},{"x":0.35,"y":4},{"x":-0.17,"y":5.8},{"x":0.04,"y":3.6},{"x":-0.31,"y":1.8},{"x":0.31,"y":-4.8},{"x":-0.33,"y":-7.8},{"x":0.21,"y":8.2},{"x":-0.17,"y":-7.6},{"x":0.01,"y":2.2},{"x":0.01,"y":7.4},{"x":-0.02,"y":-4.4},{"x":0.47,"y":0.6},{"x":-0.4,"y":-1.6},{"x":0.08,"y":-4},{"x":0.28,"y":2},{"x":-0.18,"y":-1.6},{"x":0.21,"y":-5.2},{"x":-0.03,"y":-1.4},{"x":0.07,"y":10.2},{"x":-0.17,"y":-10.6},{"x":0.1,"y":5.6},{"x":-0.17,"y":0.6},{"x":0.46,"y":6.6},{"x":-0.44,"y":-5.2},{"x":-0.08,"y":4},{"x":0.16,"y":0.2},{"x":-0.21,"y":-3},{"x":0.41,"y":-1.4},{"x":-0.23,"y":6},{"x":0.14,"y":-4.2},{"x":-0.38,"y":2.8},{"x":0.29,"y":7.2},{"x":-0.07,"y":-7.2},{"x":0.08,"y":1.2},{"x":-0.11,"y":2.6},{"x":0.23,"y":2.2},{"x":-0.08,"y":-4.2},{"x":0.16,"y":8.4},{"x":-0.32,"y":-5.6},{"x":0.14,"y":-7.2},{"x":0.25,"y":-1.6},{"x":-0.44,"y":-10.4},{"x":0.51,"y":9.4},{"x":-0.08,"y":-1.2},{"x":-0.05,"y":5.4},{"x":0.11,"y":2.6},{"x":-0.26,"y":-0.6},{"x":0.36,"y":6.2},{"x":-0.41,"y":1.4},{"x":0.15,"y":-2},{"x":0.09,"y":-7},{"x":0.4,"y":-3.6},{"x":-0.47,"y":-0.6},{"x":-0.03,"y":1.6},{"x":0.04,"y":8.8},{"x":-0.22,"y":3},{"x":0.34,"y":1.8},{"x":-0.22,"y":-5.2},{"x":0.2,"y":-7.4},{"x":-0.25,"y":1.6},{"x":0.19,"y":-1.4},{"x":0.5,"y":2},{"x":-0.51,"y":-4.2},{"x":0.16,"y":5.4},{"x":-0.05,"y":-2.8},{"x":0.05,"y":-2.4},{"x":0.07,"y":2},{"x":-0.13,"y":-1.8},{"x":0.4,"y":1.6},{"x":-0.07,"y":-10.2},{"x":0.18,"y":1.6},{"x":-0.7,"y":-8},{"x":-0.65,"y":-6},{"x":-0.55,"y":-5},{"x":-0.45,"y":6},{"x":-0.4,"y":7},{"x":0.35,"y":-14},{"x":0.4,"y":-12},{"x":0.3,"y":-13},{"x":0.4,"y":10},{"x":0.42,"y":8},{"x":-0.35,"y":5},
  {"x":-0.09,"y":1.8},{"x":0.14,"y":4},{"x":-0.24,"y":-4.4},{"x":0.16,"y":-2.8},{"x":-0.22,"y":3},{"x":0.33,"y":2.6},{"x":0.02,"y":0.6},{"x":-0.27,"y":0.2},{"x":0.01,"y":7.4},{"x":-0.35,"y":-4},{"x":0.17,"y":-5.8},{"x":-0.04,"y":-3.6},{"x":0.31,"y":-1.8},{"x":-0.31,"y":4.8},{"x":0.33,"y":7.8},{"x":-0.21,"y":-8.2},{"x":0.17,"y":7.6},{"x":-0.01,"y":-2.2},{"x":-0.01,"y":-7.4},{"x":0.02,"y":4.4},{"x":-0.47,"y":-0.6},{"x":0.4,"y":1.6},{"x":-0.08,"y":4},{"x":-0.28,"y":-2},{"x":0.18,"y":1.6},{"x":-0.21,"y":5.2},{"x":0.03,"y":1.4},{"x":-0.07,"y":-10.2},{"x":0.17,"y":10.6},{"x":-0.1,"y":-5.6},{"x":0.17,"y":-0.6},{"x":-0.46,"y":-6.6},{"x":0.44,"y":5.2},{"x":0.08,"y":-4},{"x":-0.16,"y":-0.2},{"x":0.21,"y":3},{"x":-0.41,"y":1.4},{"x":0.23,"y":-6},{"x":-0.14,"y":4.2},{"x":0.38,"y":-2.8},{"x":-0.29,"y":-7.2},{"x":0.07,"y":7.2},{"x":-0.08,"y":-1.2},{"x":0.11,"y":-2.6},{"x":-0.23,"y":-2.2},{"x":0.08,"y":4.2},{"x":-0.16,"y":-8.4},{"x":0.32,"y":5.6},{"x":-0.14,"y":7.2},{"x":-0.25,"y":1.6},{"x":0.44,"y":10.4},{"x":-0.51,"y":-9.4},{"x":0.08,"y":1.2},{"x":0.05,"y":-5.4},{"x":-0.11,"y":-2.6},{"x":0.26,"y":0.6},{"x":-0.36,"y":-6.2},{"x":0.41,"y":-1.4},{"x":-0.15,"y":2},{"x":-0.09,"y":7},{"x":-0.4,"y":3.6},{"x":0.47,"y":0.6},{"x":0.03,"y":-1.6},{"x":-0.04,"y":-8.8},{"x":0.22,"y":-3},{"x":-0.34,"y":-1.8},{"x":0.22,"y":5.2},{"x":-0.2,"y":7.4},{"x":0.25,"y":-1.6},{"x":-0.19,"y":1.4},{"x":-0.5,"y":-2},{"x":0.51,"y":4.2},{"x":-0.16,"y":-5.4},{"x":0.05,"y":2.8},{"x":-0.05,"y":2.4},{"x":-0.07,"y":-2},{"x":0.13,"y":1.8},{"x":-0.4,"y":-1.6},{"x":0.07,"y":10.2},{"x":-0.18,"y":-1.6}],
 "eDJF": [
  {"g":"k","p":"line","k":8,"x":0,"y":0},{"g":"k","p":"line","k":4.2,"x":0,"y":0},
  {"g":"pink","p":"base","k":8,"x":2.01,"y":-18.1},{"g":"pink","p":"band","k":8,"x":2.01,"y":-18.1},{"g":"pink","p":"band","k":7,"x":2.01,"y":-18.1},{"g":"pink","p":"band","k":6,"x":2.01,"y":-18.1},{"g":"pink","p":"band","k":5,"x":2.01,"y":-18.1},{"g":"pink","p":"band","k":4,"x":2.01,"y":-18.1},{"g":"pink","p":"band","k":3,"x":2.01,"y":-18.1},{"g":"pink","p":"band","k":2,"x":2.01,"y":-18.1},{"g":"pink","p":"band","k":1,"x":2.01,"y":-18.1},{"g":"pink","p":"line","k":8,"x":2.01,"y":-18.1},
  {"g":"brown","p":"base","k":8,"x":2.29,"y":-10},{"g":"brown","p":"band","k":8,"x":2.29,"y":-10},{"g":"brown","p":"band","k":7,"x":2.29,"y":-10},{"g":"brown","p":"band","k":6,"x":2.29,"y":-10},{"g":"brown","p":"band","k":5,"x":2.29,"y":-10},{"g":"brown","p":"band","k":4,"x":2.29,"y":-10},{"g":"brown","p":"band","k":3,"x":2.29,"y":-10},{"g":"brown","p":"band","k":2,"x":2.29,"y":-10},{"g":"brown","p":"band","k":1,"x":2.29,"y":-10},{"g":"brown","p":"line","k":8,"x":2.29,"y":-10},{"g":"brown","p":"line","k":4,"x":2.29,"y":-10},
  {"g":"blue","p":"base","k":8,"x":1.97,"y":-13.5},{"g":"blue","p":"band","k":8,"x":1.97,"y":-13.5},{"g":"blue","p":"band","k":7,"x":1.97,"y":-13.5},{"g":"blue","p":"band","k":6,"x":1.97,"y":-13.5},{"g":"blue","p":"band","k":5,"x":1.97,"y":-13.5},{"g":"blue","p":"band","k":4,"x":1.97,"y":-13.5},{"g":"blue","p":"band","k":3,"x":1.97,"y":-13.5},{"g":"blue","p":"band","k":2,"x":1.97,"y":-13.5},{"g":"blue","p":"band","k":1,"x":1.97,"y":-13.5},{"g":"blue","p":"line","k":8,"x":1.97,"y":-13.5},{"g":"blue","p":"line","k":4.5,"x":1.97,"y":-13.5}
 ],
 "mDJF": [{"x":2.1,"y":0,"c":"o","s":"c","f":1},{"x":2.3,"y":-0.4,"c":"n","s":"t","f":1},{"x":2.1,"y":-2.1,"c":"g","s":"c","f":1},{"x":2.1,"y":-3.5,"c":"r","s":"c","f":0},{"x":2.49,"y":-4.2,"c":"p","s":"c","f":1},{"x":2.2,"y":-4.2,"c":"b","s":"t","f":1},{"x":2.3,"y":-6.2,"c":"dg","s":"t","f":0},{"x":2.4,"y":-7.6,"c":"l","s":"t","f":1},{"x":1.89,"y":-5.9,"c":"sa","s":"t","f":0},{"x":1.7,"y":-7.8,"c":"c","s":"c","f":1},{"x":1.99,"y":-7.8,"c":"o","s":"t","f":1},{"x":1.7,"y":-10.2,"c":"k","s":"c","f":1},{"x":1.89,"y":-10.5,"c":"sa","s":"t","f":0},{"x":2.2,"y":-9.6,"c":"k","s":"t","f":1},{"x":1.8,"y":-11.3,"c":"sa","s":"c","f":0},{"x":1.99,"y":-11.8,"c":"m","s":"c","f":1},{"x":1.9,"y":-12.7,"c":"k","s":"q","f":1},{"x":2.1,"y":-12.5,"c":"r","s":"c","f":1},{"x":2.3,"y":-11.3,"c":"p","s":"t","f":1},{"x":2.3,"y":-12.4,"c":"b","s":"c","f":1},{"x":2.4,"y":-12.9,"c":"r","s":"t","f":1},{"x":2.5,"y":-10.2,"c":"g","s":"t","f":1},{"x":2.6,"y":-11.6,"c":"l","s":"c","f":1},{"x":2.7,"y":-10.8,"c":"n","s":"c","f":1},{"x":2.1,"y":-14.6,"c":"lb","s":"c","f":0},{"x":1.29,"y":-14.6,"c":"m","s":"c","f":0},{"x":1.8,"y":-18.9,"c":"r","s":"t","f":0},{"x":1.99,"y":-18.1,"c":"lb","s":"t","f":0},{"x":2.2,"y":-21.7,"c":"lb","s":"t","f":0},{"x":2.6,"y":-20.3,"c":"dg","s":"c","f":0},{"x":2.1,"y":-24.8,"c":"o","s":"c","f":0},{"x":2.2,"y":-27,"c":"y","s":"c","f":1},{"x":1.3,"y":-27.8,"c":"m","s":"t","f":0},{"x":1.49,"y":-28.4,"c":"g","s":"c","f":0},{"x":2.6,"y":-28.9,"c":"m","s":"t","f":1},{"x":2.2,"y":-39.4,"c":"p","s":"c","f":0},{"x":2.8,"y":-37.1,"c":"l","s":"c","f":0}],
 "lDJF": [{"t":"O","x":1.9,"y":5},{"t":"M","x":1.8,"y":-5.1},{"t":"A","x":2.3,"y":-5.6},{"t":"D","x":2.4,"y":-10.8},{"t":"B","x":1.8,"y":-13},{"t":"P","x":1.8,"y":-15.9},{"t":"I","x":2.1,"y":-17},{"t":"A","x":1.49,"y":-17.6},{"t":"B","x":1.99,"y":-21.3},{"t":"Q","x":1.99,"y":-24.3},{"t":"K","x":2.39,"y":-25.7}]
},
"vconcat": [
 {
  "title": {"text": "Syria MAM"},
  "width": 324, "height": 190,
  "resolve": {"axis": {"x": "independent", "y": "independent"}},
  "layer": [
   {"data": {"values": [{"v": 0}]}, "mark": {"type": "rule", "strokeDash": [2, 3.5], "strokeWidth": 1.5, "color": "black"},
    "encoding": {"x": {"field": "v", "type": "quantitative", "scale": {"domain": [-0.54, 3.71], "nice": false, "zero": false}, "axis": {"orient": "top", "values": [0,1,2,3], "labels": false, "title": null}}}},
   {"data": {"values": [{"v": 0}]}, "mark": {"type": "rule", "strokeDash": [2, 3.5], "strokeWidth": 1.5, "color": "black"},
    "encoding": {"y": {"field": "v", "type": "quantitative", "scale": {"domain": [-48.5, 20.2], "nice": false, "zero": false}, "axis": {"orient": "right", "values": [-40,-30,-20,-10,0,10,20], "labels": false, "title": null}}}},
   {"data": {"name": "cMAM"}, "mark": {"type": "square", "size": 3, "color": "black", "clip": true, "opacity": 1},
    "encoding": {"x": {"field": "x", "type": "quantitative", "scale": {"domain": [-0.54, 3.71], "nice": false, "zero": false}, "axis": {"orient": "bottom", "values": [0,1,2,3], "format": "d", "title": "Mean temperature change (°C)"}},
     "y": {"field": "y", "type": "quantitative", "scale": {"domain": [-48.5, 20.2], "nice": false, "zero": false}, "axis": {"orient": "left", "values": [-40,-30,-20,-10,0,10,20], "format": "d", "title": "Precipitation change (%)"}}}},
   {"data": {"name": "eMAM"}, "transform": [{"filter": "datum.g=='k'"}], "mark": {"type": "point", "filled": false, "color": "black", "clip": true, "opacity": 1},
    "encoding": {"x": {"field": "x", "type": "quantitative", "scale": {"domain": [-0.54, 3.71], "nice": false, "zero": false}, "axis": null},
     "y": {"field": "y", "type": "quantitative", "scale": {"domain": [-48.5, 20.2], "nice": false, "zero": false}, "axis": null},
     "shape": {"value": "M28.9,34.5A45,21,50,1,1,-28.9,-34.5A45,21,50,1,1,28.9,34.5Z"},
     "size": {"field": "k", "type": "quantitative", "scale": {"type": "pow", "exponent": 2, "domain": [0, 8], "range": [0, 4]}, "legend": null},
     "strokeWidth": {"condition": {"test": "datum.k<8", "value": 3.5}, "value": 1.8}}},
   {"data": {"name": "eMAM"}, "transform": [{"filter": "datum.g=='pink'"}], "mark": {"type": "point", "filled": true, "clip": true, "opacity": 1},
    "encoding": {"x": {"field": "x", "type": "quantitative", "scale": {"domain": [-0.54, 3.71], "nice": false, "zero": false}, "axis": {"orient": "bottom", "tickCount": 42, "labels": false, "title": null, "domain": false, "tickSize": -3.5}},
     "y": {"field": "y", "type": "quantitative", "scale": {"domain": [-48.5, 20.2], "nice": false, "zero": false}, "axis": {"orient": "left", "tickCount": 69, "labels": false, "title": null, "domain": false, "tickSize": -3.5}},
     "shape": {"value": "M54,43A69,36,38.5,1,1,-54,-43A69,36,38.5,1,1,54,43Z"},
     "size": {"field": "k", "type": "quantitative", "scale": {"type": "pow", "exponent": 2, "domain": [0, 8], "range": [0, 4]}, "legend": null},
     "fill": {"condition": {"test": "datum.p=='base'", "value": "white"}, "value": "#ff00d0"},
     "fillOpacity": {"condition": [{"test": "datum.p=='base'", "value": 1}, {"test": "datum.p=='line'", "value": 0}], "value": 0.15},
     "stroke": {"value": "#ff40e0"},
     "strokeOpacity": {"condition": {"test": "datum.p=='line'", "value": 1}, "value": 0},
     "strokeWidth": {"value": 1}}},
   {"data": {"name": "eMAM"}, "transform": [{"filter": "datum.g=='brown'"}], "mark": {"type": "point", "filled": true, "clip": true, "opacity": 1},
    "encoding": {"x": {"field": "x", "type": "quantitative", "scale": {"domain": [-0.54, 3.71], "nice": false, "zero": false}, "axis": {"orient": "top", "tickCount": 42, "labels": false, "title": null, "domain": false, "tickSize": -3.5}},
     "y": {"field": "y", "type": "quantitative", "scale": {"domain": [-48.5, 20.2], "nice": false, "zero": false}, "axis": {"orient": "right", "tickCount": 69, "labels": false, "title": null, "domain": false, "tickSize": -3.5}},
     "shape": {"value": "M31.6,45A55,30,55,1,1,-31.6,-45A55,30,55,1,1,31.6,45Z"},
     "size": {"field": "k", "type": "quantitative", "scale": {"type": "pow", "exponent": 2, "domain": [0, 8], "range": [0, 4]}, "legend": null},
     "fill": {"condition": {"test": "datum.p=='base'", "value": "white"}, "value": "#8b4513"},
     "fillOpacity": {"condition": [{"test": "datum.p=='base'", "value": 1}, {"test": "datum.p=='line'", "value": 0}], "value": 0.15},
     "stroke": {"value": "#b07848"},
     "strokeOpacity": {"condition": {"test": "datum.p=='line'", "value": 1}, "value": 0},
     "strokeWidth": {"value": 1}}},
   {"data": {"name": "eMAM"}, "transform": [{"filter": "datum.g=='blue'"}], "mark": {"type": "point", "filled": true, "clip": true, "opacity": 1},
    "encoding": {"x": {"field": "x", "type": "quantitative", "scale": {"domain": [-0.54, 3.71], "nice": false, "zero": false}, "axis": null},
     "y": {"field": "y", "type": "quantitative", "scale": {"domain": [-48.5, 20.2], "nice": false, "zero": false}, "axis": null},
     "shape": {"value": "M28.8,56.6A63.5,39,63,1,1,-28.8,-56.6A63.5,39,63,1,1,28.8,56.6Z"},
     "size": {"field": "k", "type": "quantitative", "scale": {"type": "pow", "exponent": 2, "domain": [0, 8], "range": [0, 4]}, "legend": null},
     "fill": {"condition": {"test": "datum.p=='base'", "value": "white"}, "value": "#0a64e6"},
     "fillOpacity": {"condition": [{"test": "datum.p=='base'", "value": 1}, {"test": "datum.p=='line'", "value": 0}], "value": 0.18},
     "stroke": {"condition": {"test": "datum.k<8", "value": "#0d5bd0"}, "value": "#3d8ae8"},
     "strokeOpacity": {"condition": {"test": "datum.p=='line'", "value": 1}, "value": 0},
     "strokeWidth": {"condition": {"test": "datum.k<8", "value": 1.6}, "value": 1}}},
   {"data": {"name": "mMAM"}, "mark": {"type": "point", "clip": true, "opacity": 1, "strokeWidth": 1},
    "encoding": {"x": {"field": "x", "type": "quantitative", "scale": {"domain": [-0.54, 3.71], "nice": false, "zero": false}, "axis": null},
     "y": {"field": "y", "type": "quantitative", "scale": {"domain": [-48.5, 20.2], "nice": false, "zero": false}, "axis": null},
     "shape": {"field": "s", "type": "nominal", "scale": {"domain": ["c","t","q"], "range": ["circle","triangle-up","square"]}, "legend": null},
     "fill": {"field": "c", "type": "nominal", "scale": {"domain": ["r","o","g","b","k","m","p","l","n","c","y","pk","dg","lb","sa"], "range": ["#ff1a1a","#ff8c00","#1ee61e","#1a6cf0","#000000","#ff00ff","#9a33ee","#c89cf0","#c8661e","#5ab8f0","#9a9a9a","#ee80c8","#555555","#8cc4ee","#e07a66"]}, "legend": null},
     "stroke": {"field": "c", "type": "nominal", "scale": {"domain": ["r","o","g","b","k","m","p","l","n","c","y","pk","dg","lb","sa"], "range": ["#ff1a1a","#ff8c00","#1ee61e","#1a6cf0","#000000","#ff00ff","#9a33ee","#c89cf0","#c8661e","#5ab8f0","#9a9a9a","#ee80c8","#555555","#8cc4ee","#e07a66"]}, "legend": null},
     "fillOpacity": {"condition": {"test": "datum.f==1", "value": 1}, "value": 0},
     "strokeOpacity": {"condition": {"test": "datum.f==1", "value": 0}, "value": 1},
     "size": {"value": 30}}},
   {"data": {"name": "lMAM"}, "mark": {"type": "text", "fontSize": 8, "color": "#333", "clip": true, "font": "Liberation Sans"},
    "encoding": {"x": {"field": "x", "type": "quantitative", "scale": {"domain": [-0.54, 3.71], "nice": false, "zero": false}, "axis": null},
     "y": {"field": "y", "type": "quantitative", "scale": {"domain": [-48.5, 20.2], "nice": false, "zero": false}, "axis": null},
     "text": {"field": "t"}}}
  ]
 },
 {
  "title": {"text": "Syria JJA"},
  "width": 324, "height": 190,
  "resolve": {"axis": {"x": "independent", "y": "independent"}},
  "layer": [
   {"data": {"values": [{"v": 0}]}, "mark": {"type": "rule", "strokeDash": [2, 3.5], "strokeWidth": 1.5, "color": "black"},
    "encoding": {"x": {"field": "v", "type": "quantitative", "scale": {"domain": [-0.44, 4.6], "nice": false, "zero": false}, "axis": {"orient": "top", "values": [0,1,2,3,4], "labels": false, "title": null}}}},
   {"data": {"values": [{"v": 0}]}, "mark": {"type": "rule", "strokeDash": [2, 3.5], "strokeWidth": 1.5, "color": "black"},
    "encoding": {"y": {"field": "v", "type": "quantitative", "scale": {"domain": [-101, 147], "nice": false, "zero": false}, "axis": {"orient": "right", "values": [-100,-50,0,50,100], "labels": false, "title": null}}}},
   {"data": {"name": "cJJA"}, "mark": {"type": "square", "size": 3, "color": "black", "clip": true, "opacity": 1},
    "encoding": {"x": {"field": "x", "type": "quantitative", "scale": {"domain": [-0.44, 4.6], "nice": false, "zero": false}, "axis": {"orient": "bottom", "values": [0,1,2,3,4], "format": "d", "title": "Mean temperature change (°C)"}},
     "y": {"field": "y", "type": "quantitative", "scale": {"domain": [-101, 147], "nice": false, "zero": false}, "axis": {"orient": "left", "values": [-100,-50,0,50,100], "format": "d", "title": "Precipitation change (%)"}}}},
   {"data": {"name": "eJJA"}, "transform": [{"filter": "datum.g=='k'"}], "mark": {"type": "point", "filled": false, "color": "black", "clip": true, "opacity": 1},
    "encoding": {"x": {"field": "x", "type": "quantitative", "scale": {"domain": [-0.44, 4.6], "nice": false, "zero": false}, "axis": null},
     "y": {"field": "y", "type": "quantitative", "scale": {"domain": [-101, 147], "nice": false, "zero": false}, "axis": null},
     "shape": {"value": "M12.3,26.3A29,15,65,1,1,-12.3,-26.3A29,15,65,1,1,12.3,26.3Z"},
     "size": {"field": "k", "type": "quantitative", "scale": {"type": "pow", "exponent": 2, "domain": [0, 8], "range": [0, 4]}, "legend": null},
     "strokeWidth": {"condition": {"test": "datum.k<8", "value": 3.5}, "value": 1.8}}},
   {"data": {"name": "eJJA"}, "transform": [{"filter": "datum.g=='pink'"}], "mark": {"type": "point", "filled": true, "clip": true, "opacity": 1},
    "encoding": {"x": {"field": "x", "type": "quantitative", "scale": {"domain": [-0.44, 4.6], "nice": false, "zero": false}, "axis": {"orient": "bottom", "tickCount": 50, "labels": false, "title": null, "domain": false, "tickSize": -3.5}},
     "y": {"field": "y", "type": "quantitative", "scale": {"domain": [-101, 147], "nice": false, "zero": false}, "axis": {"orient": "left", "tickCount": 25, "labels": false, "title": null, "domain": false, "tickSize": -3.5}},
     "shape": {"value": "M11,78.2A79,55,82,1,1,-11,-78.2A79,55,82,1,1,11,78.2Z"},
     "size": {"field": "k", "type": "quantitative", "scale": {"type": "pow", "exponent": 2, "domain": [0, 8], "range": [0, 4]}, "legend": null},
     "fill": {"condition": {"test": "datum.p=='base'", "value": "white"}, "value": "#ff00d0"},
     "fillOpacity": {"condition": [{"test": "datum.p=='base'", "value": 1}, {"test": "datum.p=='line'", "value": 0}], "value": 0.15},
     "stroke": {"value": "#ff40e0"},
     "strokeOpacity": {"condition": {"test": "datum.p=='line'", "value": 1}, "value": 0},
     "strokeWidth": {"value": 1}}},
   {"data": {"name": "eJJA"}, "transform": [{"filter": "datum.g=='brown'"}], "mark": {"type": "point", "filled": true, "clip": true, "opacity": 1},
    "encoding": {"x": {"field": "x", "type": "quantitative", "scale": {"domain": [-0.44, 4.6], "nice": false, "zero": false}, "axis": {"orient": "top", "tickCount": 50, "labels": false, "title": null, "domain": false, "tickSize": -3.5}},
     "y": {"field": "y", "type": "quantitative", "scale": {"domain": [-101, 147], "nice": false, "zero": false}, "axis": {"orient": "right", "tickCount": 25, "labels": false, "title": null, "domain": false, "tickSize": -3.5}},
     "shape": {"value": "M63.9,23.3A68,59,20,1,1,-63.9,-23.3A68,59,20,1,1,63.9,23.3Z"},
     "size": {"field": "k", "type": "quantitative", "scale": {"type": "pow", "exponent": 2, "domain": [0, 8], "range": [0, 4]}, "legend": null},
     "fill": {"condition": {"test": "datum.p=='base'", "value": "white"}, "value": "#8b4513"},
     "fillOpacity": {"condition": [{"test": "datum.p=='base'", "value": 1}, {"test": "datum.p=='line'", "value": 0}], "value": 0.15},
     "stroke": {"condition": {"test": "datum.k<8", "value": "#8a4a1a"}, "value": "#b07848"},
     "strokeOpacity": {"condition": {"test": "datum.p=='line'", "value": 1}, "value": 0},
     "strokeWidth": {"condition": {"test": "datum.k<8", "value": 1.5}, "value": 1}}},
   {"data": {"name": "eJJA"}, "transform": [{"filter": "datum.g=='blue'"}], "mark": {"type": "point", "filled": true, "clip": true, "opacity": 1},
    "encoding": {"x": {"field": "x", "type": "quantitative", "scale": {"domain": [-0.44, 4.6], "nice": false, "zero": false}, "axis": null},
     "y": {"field": "y", "type": "quantitative", "scale": {"domain": [-101, 147], "nice": false, "zero": false}, "axis": null},
     "shape": {"value": "M11.9,47.8A49.3,27.5,76,1,1,-11.9,-47.8A49.3,27.5,76,1,1,11.9,47.8Z"},
     "size": {"field": "k", "type": "quantitative", "scale": {"type": "pow", "exponent": 2, "domain": [0, 8], "range": [0, 4]}, "legend": null},
     "fill": {"condition": {"test": "datum.p=='base'", "value": "white"}, "value": "#0a64e6"},
     "fillOpacity": {"condition": [{"test": "datum.p=='base'", "value": 1}, {"test": "datum.p=='line'", "value": 0}], "value": 0.18},
     "stroke": {"condition": {"test": "datum.k<8", "value": "#0d5bd0"}, "value": "#3d8ae8"},
     "strokeOpacity": {"condition": {"test": "datum.p=='line'", "value": 1}, "value": 0},
     "strokeWidth": {"condition": {"test": "datum.k<8", "value": 1.6}, "value": 1}}},
   {"data": {"name": "mJJA"}, "mark": {"type": "point", "clip": true, "opacity": 1, "strokeWidth": 1},
    "encoding": {"x": {"field": "x", "type": "quantitative", "scale": {"domain": [-0.44, 4.6], "nice": false, "zero": false}, "axis": null},
     "y": {"field": "y", "type": "quantitative", "scale": {"domain": [-101, 147], "nice": false, "zero": false}, "axis": null},
     "shape": {"field": "s", "type": "nominal", "scale": {"domain": ["c","t","q"], "range": ["circle","triangle-up","square"]}, "legend": null},
     "fill": {"field": "c", "type": "nominal", "scale": {"domain": ["r","o","g","b","k","m","p","l","n","c","y","pk","dg","lb","sa"], "range": ["#ff1a1a","#ff8c00","#1ee61e","#1a6cf0","#000000","#ff00ff","#9a33ee","#c89cf0","#c8661e","#5ab8f0","#9a9a9a","#ee80c8","#555555","#8cc4ee","#e07a66"]}, "legend": null},
     "stroke": {"field": "c", "type": "nominal", "scale": {"domain": ["r","o","g","b","k","m","p","l","n","c","y","pk","dg","lb","sa"], "range": ["#ff1a1a","#ff8c00","#1ee61e","#1a6cf0","#000000","#ff00ff","#9a33ee","#c89cf0","#c8661e","#5ab8f0","#9a9a9a","#ee80c8","#555555","#8cc4ee","#e07a66"]}, "legend": null},
     "fillOpacity": {"condition": {"test": "datum.f==1", "value": 1}, "value": 0},
     "strokeOpacity": {"condition": {"test": "datum.f==1", "value": 0}, "value": 1},
     "size": {"value": 30}}},
   {"data": {"name": "lJJA"}, "mark": {"type": "text", "fontSize": 8, "color": "#333", "clip": true, "font": "Liberation Sans"},
    "encoding": {"x": {"field": "x", "type": "quantitative", "scale": {"domain": [-0.44, 4.6], "nice": false, "zero": false}, "axis": null},
     "y": {"field": "y", "type": "quantitative", "scale": {"domain": [-101, 147], "nice": false, "zero": false}, "axis": null},
     "text": {"field": "t"}}}
  ]
 },
 {
  "title": {"text": "Syria SON"},
  "width": 324, "height": 190,
  "resolve": {"axis": {"x": "independent", "y": "independent"}},
  "layer": [
   {"data": {"values": [{"v": 0}]}, "mark": {"type": "rule", "strokeDash": [2, 3.5], "strokeWidth": 1.5, "color": "black"},
    "encoding": {"x": {"field": "v", "type": "quantitative", "scale": {"domain": [-0.59, 3.71], "nice": false, "zero": false}, "axis": {"orient": "top", "values": [0,1,2,3], "labels": false, "title": null}}}},
   {"data": {"values": [{"v": 0}]}, "mark": {"type": "rule", "strokeDash": [2, 3.5], "strokeWidth": 1.5, "color": "black"},
    "encoding": {"y": {"field": "v", "type": "quantitative", "scale": {"domain": [-47.1, 23.7], "nice": false, "zero": false}, "axis": {"orient": "right", "values": [-40,-30,-20,-10,0,10,20], "labels": false, "title": null}}}},
   {"data": {"name": "cSON"}, "mark": {"type": "square", "size": 3, "color": "black", "clip": true, "opacity": 1},
    "encoding": {"x": {"field": "x", "type": "quantitative", "scale": {"domain": [-0.59, 3.71], "nice": false, "zero": false}, "axis": {"orient": "bottom", "values": [0,1,2,3], "format": "d", "title": "Mean temperature change (°C)"}},
     "y": {"field": "y", "type": "quantitative", "scale": {"domain": [-47.1, 23.7], "nice": false, "zero": false}, "axis": {"orient": "left", "values": [-40,-30,-20,-10,0,10,20], "format": "d", "title": "Precipitation change (%)"}}}},
   {"data": {"name": "eSON"}, "transform": [{"filter": "datum.g=='k'"}], "mark": {"type": "point", "filled": false, "color": "black", "clip": true, "opacity": 1},
    "encoding": {"x": {"field": "x", "type": "quantitative", "scale": {"domain": [-0.59, 3.71], "nice": false, "zero": false}, "axis": null},
     "y": {"field": "y", "type": "quantitative", "scale": {"domain": [-47.1, 23.7], "nice": false, "zero": false}, "axis": null},
     "shape": {"value": "M0,45A45,32.3,90,1,1,0,-45A45,32.3,90,1,1,0,45Z"},
     "size": {"field": "k", "type": "quantitative", "scale": {"type": "pow", "exponent": 2, "domain": [0, 8], "range": [0, 4]}, "legend": null},
     "strokeWidth": {"condition": {"test": "datum.k<8", "value": 3.5}, "value": 1.8}}},
   {"data": {"name": "eSON"}, "transform": [{"filter": "datum.g=='brown'"}], "mark": {"type": "point", "filled": true, "clip": true, "opacity": 1},
    "encoding": {"x": {"field": "x", "type": "quantitative", "scale": {"domain": [-0.59, 3.71], "nice": false, "zero": false}, "axis": {"orient": "top", "tickCount": 43, "labels": false, "title": null, "domain": false, "tickSize": -3.5}},
     "y": {"field": "y", "type": "quantitative", "scale": {"domain": [-47.1, 23.7], "nice": false, "zero": false}, "axis": {"orient": "right", "tickCount": 70, "labels": false, "title": null, "domain": false, "tickSize": -3.5}},
     "shape": {"value": "M22.2,61.1A65,40,70,1,1,-22.2,-61.1A65,40,70,1,1,22.2,61.1Z"},
     "size": {"field": "k", "type": "quantitative", "scale": {"type": "pow", "exponent": 2, "domain": [0, 8], "range": [0, 4]}, "legend": null},
     "fill": {"condition": {"test": "datum.p=='base'", "value": "white"}, "value": "#8b4513"},
     "fillOpacity": {"condition": [{"test": "datum.p=='base'", "value": 1}, {"test": "datum.p=='line'", "value": 0}], "value": 0.15},
     "stroke": {"value": "#b07848"},
     "strokeOpacity": {"condition": {"test": "datum.p=='line'", "value": 1}, "value": 0},
     "strokeWidth": {"value": 1}}},
   {"data": {"name": "eSON"}, "transform": [{"filter": "datum.g=='pink'"}], "mark": {"type": "point", "filled": true, "clip": true, "opacity": 1},
    "encoding": {"x": {"field": "x", "type": "quantitative", "scale": {"domain": [-0.59, 3.71], "nice": false, "zero": false}, "axis": {"orient": "bottom", "tickCount": 43, "labels": false, "title": null, "domain": false, "tickSize": -3.5}},
     "y": {"field": "y", "type": "quantitative", "scale": {"domain": [-47.1, 23.7], "nice": false, "zero": false}, "axis": {"orient": "left", "tickCount": 70, "labels": false, "title": null, "domain": false, "tickSize": -3.5}},
     "shape": {"value": "M-33.8,63.6A72,38,118,1,1,33.8,-63.6A72,38,118,1,1,-33.8,63.6Z"},
     "size": {"field": "k", "type": "quantitative", "scale": {"type": "pow", "exponent": 2, "domain": [0, 8], "range": [0, 4]}, "legend": null},
     "fill": {"condition": {"test": "datum.p=='base'", "value": "white"}, "value": "#ff00d0"},
     "fillOpacity": {"condition": [{"test": "datum.p=='base'", "value": 1}, {"test": "datum.p=='line'", "value": 0}], "value": 0.15},
     "stroke": {"value": "#ff40e0"},
     "strokeOpacity": {"condition": {"test": "datum.p=='line'", "value": 1}, "value": 0},
     "strokeWidth": {"value": 1}}},
   {"data": {"name": "eSON"}, "transform": [{"filter": "datum.g=='blue'"}], "mark": {"type": "point", "filled": true, "clip": true, "opacity": 1},
    "encoding": {"x": {"field": "x", "type": "quantitative", "scale": {"domain": [-0.59, 3.71], "nice": false, "zero": false}, "axis": null},
     "y": {"field": "y", "type": "quantitative", "scale": {"domain": [-47.1, 23.7], "nice": false, "zero": false}, "axis": null},
     "shape": {"value": "M-7.3,83.7A84,33,95,1,1,7.3,-83.7A84,33,95,1,1,-7.3,83.7Z"},
     "size": {"field": "k", "type": "quantitative", "scale": {"type": "pow", "exponent": 2, "domain": [0, 8], "range": [0, 4]}, "legend": null},
     "fill": {"condition": {"test": "datum.p=='base'", "value": "white"}, "value": "#0a64e6"},
     "fillOpacity": {"condition": [{"test": "datum.p=='base'", "value": 1}, {"test": "datum.p=='line'", "value": 0}], "value": 0.18},
     "stroke": {"condition": {"test": "datum.k<8", "value": "#0d5bd0"}, "value": "#3d8ae8"},
     "strokeOpacity": {"condition": {"test": "datum.p=='line'", "value": 1}, "value": 0},
     "strokeWidth": {"condition": {"test": "datum.k<8", "value": 1.6}, "value": 1}}},
   {"data": {"name": "mSON"}, "mark": {"type": "point", "clip": true, "opacity": 1, "strokeWidth": 1},
    "encoding": {"x": {"field": "x", "type": "quantitative", "scale": {"domain": [-0.59, 3.71], "nice": false, "zero": false}, "axis": null},
     "y": {"field": "y", "type": "quantitative", "scale": {"domain": [-47.1, 23.7], "nice": false, "zero": false}, "axis": null},
     "shape": {"field": "s", "type": "nominal", "scale": {"domain": ["c","t","q"], "range": ["circle","triangle-up","square"]}, "legend": null},
     "fill": {"field": "c", "type": "nominal", "scale": {"domain": ["r","o","g","b","k","m","p","l","n","c","y","pk","dg","lb","sa"], "range": ["#ff1a1a","#ff8c00","#1ee61e","#1a6cf0","#000000","#ff00ff","#9a33ee","#c89cf0","#c8661e","#5ab8f0","#9a9a9a","#ee80c8","#555555","#8cc4ee","#e07a66"]}, "legend": null},
     "stroke": {"field": "c", "type": "nominal", "scale": {"domain": ["r","o","g","b","k","m","p","l","n","c","y","pk","dg","lb","sa"], "range": ["#ff1a1a","#ff8c00","#1ee61e","#1a6cf0","#000000","#ff00ff","#9a33ee","#c89cf0","#c8661e","#5ab8f0","#9a9a9a","#ee80c8","#555555","#8cc4ee","#e07a66"]}, "legend": null},
     "fillOpacity": {"condition": {"test": "datum.f==1", "value": 1}, "value": 0},
     "strokeOpacity": {"condition": {"test": "datum.f==1", "value": 0}, "value": 1},
     "size": {"value": 30}}},
   {"data": {"name": "lSON"}, "mark": {"type": "text", "fontSize": 8, "color": "#333", "clip": true, "font": "Liberation Sans"},
    "encoding": {"x": {"field": "x", "type": "quantitative", "scale": {"domain": [-0.59, 3.71], "nice": false, "zero": false}, "axis": null},
     "y": {"field": "y", "type": "quantitative", "scale": {"domain": [-47.1, 23.7], "nice": false, "zero": false}, "axis": null},
     "text": {"field": "t"}}}
  ]
 },
 {
  "title": {"text": "Syria DJF"},
  "width": 324, "height": 190,
  "resolve": {"axis": {"x": "independent", "y": "independent"}},
  "layer": [
   {"data": {"values": [{"v": 0}]}, "mark": {"type": "rule", "strokeDash": [2, 3.5], "strokeWidth": 1.5, "color": "black"},
    "encoding": {"x": {"field": "v", "type": "quantitative", "scale": {"domain": [-0.83, 3.0], "nice": false, "zero": false}, "axis": {"orient": "top", "values": [0,1,2,3], "labels": false, "title": null}}}},
   {"data": {"values": [{"v": 0}]}, "mark": {"type": "rule", "strokeDash": [2, 3.5], "strokeWidth": 1.5, "color": "black"},
    "encoding": {"y": {"field": "v", "type": "quantitative", "scale": {"domain": [-41.4, 20.4], "nice": false, "zero": false}, "axis": {"orient": "right", "values": [-40,-30,-20,-10,0,10,20], "labels": false, "title": null}}}},
   {"data": {"name": "cDJF"}, "mark": {"type": "square", "size": 3, "color": "black", "clip": true, "opacity": 1},
    "encoding": {"x": {"field": "x", "type": "quantitative", "scale": {"domain": [-0.83, 3.0], "nice": false, "zero": false}, "axis": {"orient": "bottom", "values": [0,1,2,3], "format": "d", "title": "Mean temperature change (°C)"}},
     "y": {"field": "y", "type": "quantitative", "scale": {"domain": [-41.4, 20.4], "nice": false, "zero": false}, "axis": {"orient": "left", "values": [-40,-30,-20,-10,0,10,20], "format": "d", "title": "Precipitation change (%)"}}}},
   {"data": {"name": "eDJF"}, "transform": [{"filter": "datum.g=='k'"}], "mark": {"type": "point", "filled": false, "color": "black", "clip": true, "opacity": 1},
    "encoding": {"x": {"field": "x", "type": "quantitative", "scale": {"domain": [-0.83, 3.0], "nice": false, "zero": false}, "axis": null},
     "y": {"field": "y", "type": "quantitative", "scale": {"domain": [-41.4, 20.4], "nice": false, "zero": false}, "axis": null},
     "shape": {"value": "M35.3,-18.8A40,28,-28,1,1,-35.3,18.8A40,28,-28,1,1,35.3,-18.8Z"},
     "size": {"field": "k", "type": "quantitative", "scale": {"type": "pow", "exponent": 2, "domain": [0, 8], "range": [0, 4]}, "legend": null},
     "strokeWidth": {"condition": {"test": "datum.k<8", "value": 3.5}, "value": 1.8}}},
   {"data": {"name": "eDJF"}, "transform": [{"filter": "datum.g=='pink'"}], "mark": {"type": "point", "filled": true, "clip": true, "opacity": 1},
    "encoding": {"x": {"field": "x", "type": "quantitative", "scale": {"domain": [-0.83, 3.0], "nice": false, "zero": false}, "axis": {"orient": "bottom", "tickCount": 38, "labels": false, "title": null, "domain": false, "tickSize": -3.5}},
     "y": {"field": "y", "type": "quantitative", "scale": {"domain": [-41.4, 20.4], "nice": false, "zero": false}, "axis": {"orient": "left", "tickCount": 62, "labels": false, "title": null, "domain": false, "tickSize": -3.5}},
     "shape": {"value": "M53.7,31A62,57,30,1,1,-53.7,-31A62,57,30,1,1,53.7,31Z"},
     "size": {"field": "k", "type": "quantitative", "scale": {"type": "pow", "exponent": 2, "domain": [0, 8], "range": [0, 4]}, "legend": null},
     "fill": {"condition": {"test": "datum.p=='base'", "value": "white"}, "value": "#ff00d0"},
     "fillOpacity": {"condition": [{"test": "datum.p=='base'", "value": 1}, {"test": "datum.p=='line'", "value": 0}], "value": 0.15},
     "stroke": {"value": "#ff40e0"},
     "strokeOpacity": {"condition": {"test": "datum.p=='line'", "value": 1}, "value": 0},
     "strokeWidth": {"value": 1}}},
   {"data": {"name": "eDJF"}, "transform": [{"filter": "datum.g=='brown'"}], "mark": {"type": "point", "filled": true, "clip": true, "opacity": 1},
    "encoding": {"x": {"field": "x", "type": "quantitative", "scale": {"domain": [-0.83, 3.0], "nice": false, "zero": false}, "axis": {"orient": "top", "tickCount": 38, "labels": false, "title": null, "domain": false, "tickSize": -3.5}},
     "y": {"field": "y", "type": "quantitative", "scale": {"domain": [-41.4, 20.4], "nice": false, "zero": false}, "axis": {"orient": "right", "tickCount": 62, "labels": false, "title": null, "domain": false, "tickSize": -3.5}},
     "shape": {"value": "M39.8,23A46,38,30,1,1,-39.8,-23A46,38,30,1,1,39.8,23Z"},
     "size": {"field": "k", "type": "quantitative", "scale": {"type": "pow", "exponent": 2, "domain": [0, 8], "range": [0, 4]}, "legend": null},
     "fill": {"condition": {"test": "datum.p=='base'", "value": "white"}, "value": "#8b4513"},
     "fillOpacity": {"condition": [{"test": "datum.p=='base'", "value": 1}, {"test": "datum.p=='line'", "value": 0}], "value": 0.15},
     "stroke": {"condition": {"test": "datum.k<8", "value": "#8a4a1a"}, "value": "#b07848"},
     "strokeOpacity": {"condition": {"test": "datum.p=='line'", "value": 1}, "value": 0},
     "strokeWidth": {"condition": {"test": "datum.k<8", "value": 1.5}, "value": 1}}},
   {"data": {"name": "eDJF"}, "transform": [{"filter": "datum.g=='blue'"}], "mark": {"type": "point", "filled": true, "clip": true, "opacity": 1},
    "encoding": {"x": {"field": "x", "type": "quantitative", "scale": {"domain": [-0.83, 3.0], "nice": false, "zero": false}, "axis": null},
     "y": {"field": "y", "type": "quantitative", "scale": {"domain": [-41.4, 20.4], "nice": false, "zero": false}, "axis": null},
     "shape": {"value": "M20.9,39.4A44.6,34.1,62,1,1,-20.9,-39.4A44.6,34.1,62,1,1,20.9,39.4Z"},
     "size": {"field": "k", "type": "quantitative", "scale": {"type": "pow", "exponent": 2, "domain": [0, 8], "range": [0, 4]}, "legend": null},
     "fill": {"condition": {"test": "datum.p=='base'", "value": "white"}, "value": "#0a64e6"},
     "fillOpacity": {"condition": [{"test": "datum.p=='base'", "value": 1}, {"test": "datum.p=='line'", "value": 0}], "value": 0.18},
     "stroke": {"condition": {"test": "datum.k<8", "value": "#0d5bd0"}, "value": "#3d8ae8"},
     "strokeOpacity": {"condition": {"test": "datum.p=='line'", "value": 1}, "value": 0},
     "strokeWidth": {"condition": {"test": "datum.k<8", "value": 1.6}, "value": 1}}},
   {"data": {"name": "mDJF"}, "mark": {"type": "point", "clip": true, "opacity": 1, "strokeWidth": 1},
    "encoding": {"x": {"field": "x", "type": "quantitative", "scale": {"domain": [-0.83, 3.0], "nice": false, "zero": false}, "axis": null},
     "y": {"field": "y", "type": "quantitative", "scale": {"domain": [-41.4, 20.4], "nice": false, "zero": false}, "axis": null},
     "shape": {"field": "s", "type": "nominal", "scale": {"domain": ["c","t","q"], "range": ["circle","triangle-up","square"]}, "legend": null},
     "fill": {"field": "c", "type": "nominal", "scale": {"domain": ["r","o","g","b","k","m","p","l","n","c","y","pk","dg","lb","sa"], "range": ["#ff1a1a","#ff8c00","#1ee61e","#1a6cf0","#000000","#ff00ff","#9a33ee","#c89cf0","#c8661e","#5ab8f0","#9a9a9a","#ee80c8","#555555","#8cc4ee","#e07a66"]}, "legend": null},
     "stroke": {"field": "c", "type": "nominal", "scale": {"domain": ["r","o","g","b","k","m","p","l","n","c","y","pk","dg","lb","sa"], "range": ["#ff1a1a","#ff8c00","#1ee61e","#1a6cf0","#000000","#ff00ff","#9a33ee","#c89cf0","#c8661e","#5ab8f0","#9a9a9a","#ee80c8","#555555","#8cc4ee","#e07a66"]}, "legend": null},
     "fillOpacity": {"condition": {"test": "datum.f==1", "value": 1}, "value": 0},
     "strokeOpacity": {"condition": {"test": "datum.f==1", "value": 0}, "value": 1},
     "size": {"value": 30}}},
   {"data": {"name": "lDJF"}, "mark": {"type": "text", "fontSize": 8, "color": "#333", "clip": true, "font": "Liberation Sans"},
    "encoding": {"x": {"field": "x", "type": "quantitative", "scale": {"domain": [-0.83, 3.0], "nice": false, "zero": false}, "axis": null},
     "y": {"field": "y", "type": "quantitative", "scale": {"domain": [-41.4, 20.4], "nice": false, "zero": false}, "axis": null},
     "text": {"field": "t"}}}
  ]
 }
]
}
